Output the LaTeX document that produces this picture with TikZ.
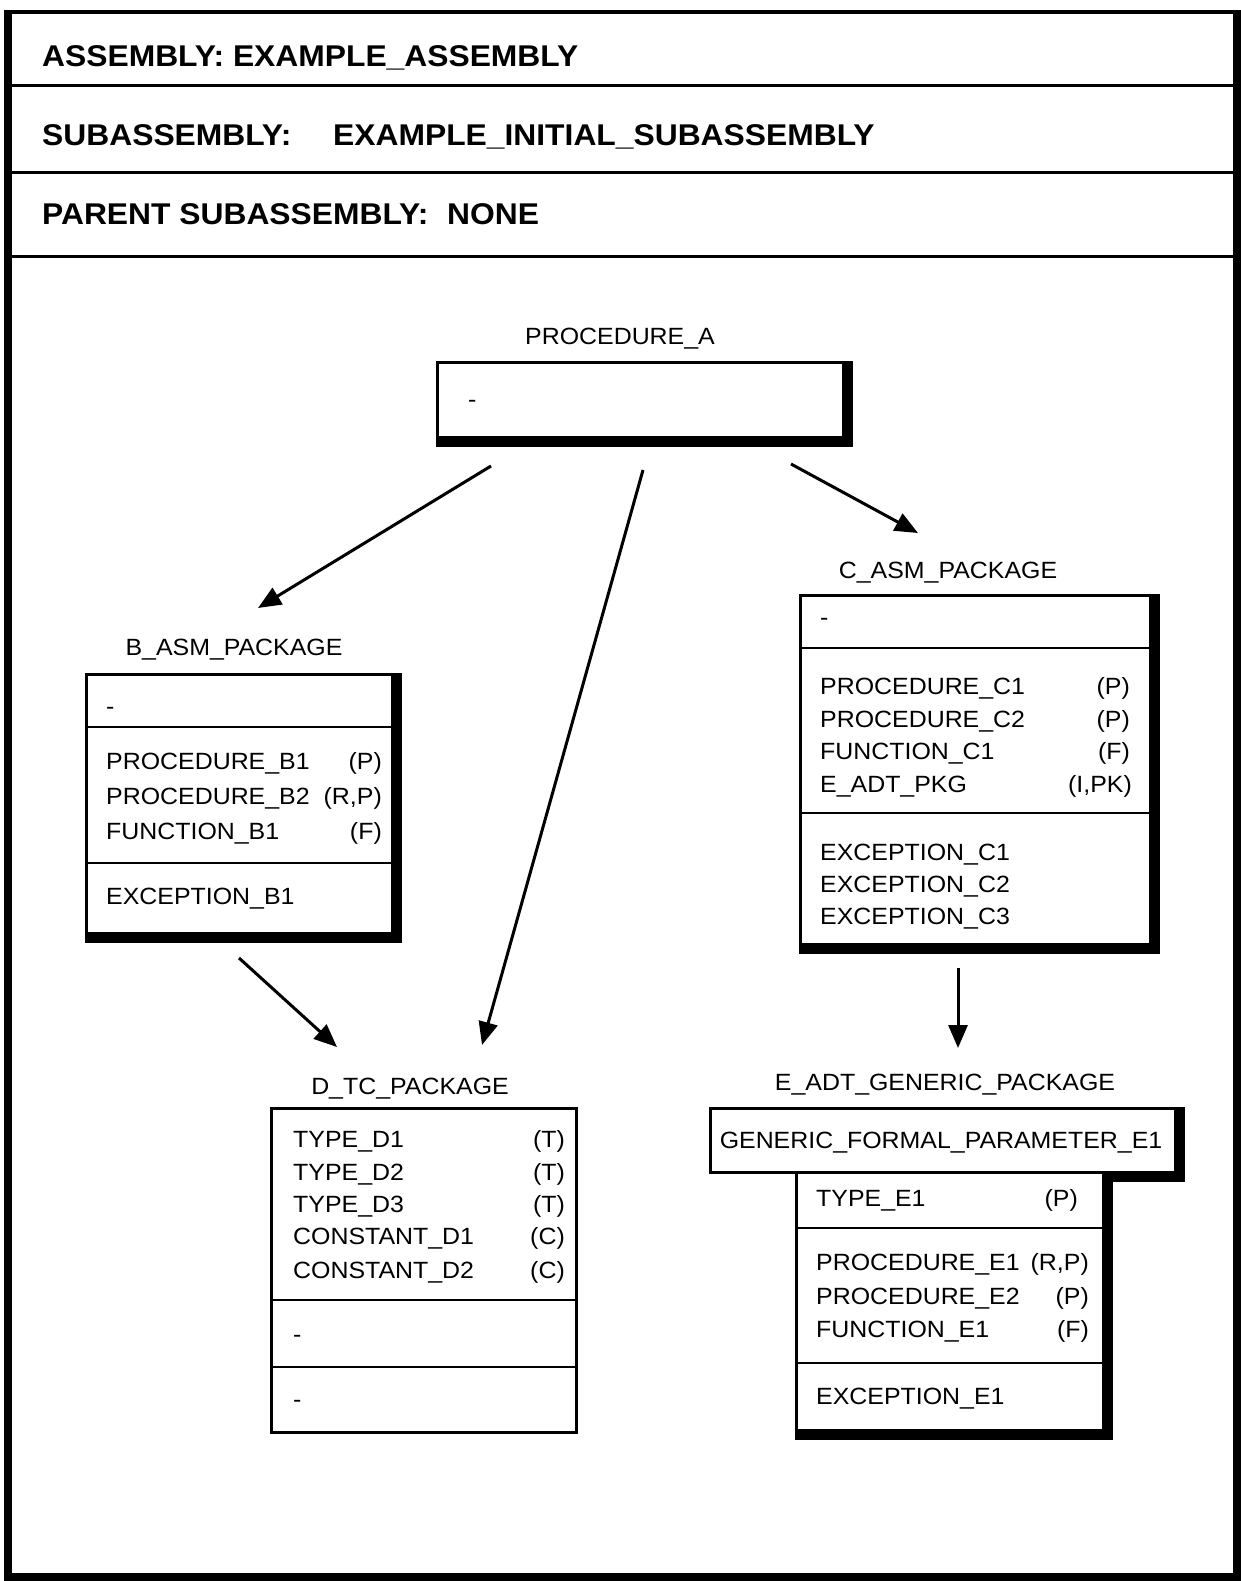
\documentclass[tikz,border=0pt]{standalone}
\usepackage{fontspec}
\setmainfont{Liberation Sans}
\newfontfamily\bodyfont[FakeStretch=1.06]{Liberation Sans}
\newfontfamily\hdrfont[FakeStretch=1.06]{Liberation Sans}
\usetikzlibrary{arrows.meta,calc}
\pgfdeclarelayer{bg}
\pgfsetlayers{bg,main}

\tikzset{
  pkgbox/.style={draw, line width=2.5pt, fill=white, inner sep=0pt, anchor=north west},
  lbl/.style={font=\bodyfont\fontsize{23.5}{28}\selectfont, inner sep=0pt},
  item/.style={lbl, anchor=base west},
  tag/.style={lbl, anchor=base east},
  title/.style={lbl, anchor=base},
  hdr/.style={font=\hdrfont\bfseries\fontsize{30}{36}\selectfont, inner sep=0pt, anchor=base west},
  link/.style={line width=3pt, -{Triangle[length=23pt,width=19pt]}},
  divider/.style={line width=2.5pt},
  rule/.style={line width=3pt},
}

\begin{document}
\begin{tikzpicture}[x=1pt,y=-1pt]
\useasboundingbox (0,0) rectangle (1241,1581);

% outer frame
\draw[line width=8pt] (7.5,10) -- (7.5,1577) -- (1236.5,1577) -- (1236.5,10);
\draw[line width=4pt] (3.5,12) -- (1240.5,12);

% header rows
\draw[rule] (11,86) -- (1233,86);
\draw[rule] (11,173) -- (1233,173);
\draw[rule] (11,256) -- (1233,256);
\node[hdr] (hasm) at (42,67) {ASSEMBLY: EXAMPLE\_ASSEMBLY};
\node[hdr] (hsubk) at (42,146) {SUBASSEMBLY:};
\node[hdr] (hsubv) at (333,146) {EXAMPLE\_INITIAL\_SUBASSEMBLY};
\node[hdr] (hpark) at (42,224) {PARENT SUBASSEMBLY:};
\node[hdr] (hparv) at (447,224) {NONE};

% PROCEDURE_A
\node[title] (tA) at (620,344) {PROCEDURE\_A};
\node[pkgbox, minimum width=406, minimum height=75] (procA) at (436,361) {};
\node[item] (a1) at (468,407) {-};

% B_ASM_PACKAGE
\node[title] (tB) at (234,655) {B\_ASM\_PACKAGE};
\node[pkgbox, minimum width=306, minimum height=259] (boxB) at (85,673) {};
\draw[divider] (85,727) -- (391,727);
\draw[divider] (85,863) -- (391,863);
\node[item] (b0) at (106,714) {-};
\node[item] (b1) at (106,769) {PROCEDURE\_B1};
\node[tag]  (b1t) at (382,769) {(P)};
\node[item] (b2) at (106,804) {PROCEDURE\_B2};
\node[tag]  (b2t) at (382,804) {(R,P)};
\node[item] (b3) at (106,839) {FUNCTION\_B1};
\node[tag]  (b3t) at (382,839) {(F)};
\node[item] (b4) at (106,904) {EXCEPTION\_B1};

% C_ASM_PACKAGE
\node[title] (tC) at (948,578) {C\_ASM\_PACKAGE};
\node[pkgbox, minimum width=350, minimum height=349] (boxC) at (799,594) {};
\draw[divider] (799,648) -- (1149,648);
\draw[divider] (799,813) -- (1149,813);
\node[item] (c0) at (820,625) {-};
\node[item] (c1) at (820,694) {PROCEDURE\_C1};
\node[tag]  (c1t) at (1130,694) {(P)};
\node[item] (c2) at (820,727) {PROCEDURE\_C2};
\node[tag]  (c2t) at (1130,727) {(P)};
\node[item] (c3) at (820,759) {FUNCTION\_C1};
\node[tag]  (c3t) at (1130,759) {(F)};
\node[item] (c4) at (820,792) {E\_ADT\_PKG};
\node[tag]  (c4t) at (1132,792) {(I,PK)};
\node[item] (c5) at (820,860) {EXCEPTION\_C1};
\node[item] (c6) at (820,892) {EXCEPTION\_C2};
\node[item] (c7) at (820,924) {EXCEPTION\_C3};

% D_TC_PACKAGE
\node[title] (tD) at (410,1094) {D\_TC\_PACKAGE};
\node[pkgbox, minimum width=305, minimum height=324] (boxD) at (270,1107) {};
\draw[divider] (270,1300) -- (575,1300);
\draw[divider] (270,1367) -- (575,1367);
\node[item] (d1) at (293,1147) {TYPE\_D1};
\node[tag]  (d1t) at (565,1147) {(T)};
\node[item] (d2) at (293,1180) {TYPE\_D2};
\node[tag]  (d2t) at (565,1180) {(T)};
\node[item] (d3) at (293,1212) {TYPE\_D3};
\node[tag]  (d3t) at (565,1212) {(T)};
\node[item] (d4) at (293,1244) {CONSTANT\_D1};
\node[tag]  (d4t) at (565,1244) {(C)};
\node[item] (d5) at (293,1278) {CONSTANT\_D2};
\node[tag]  (d5t) at (565,1278) {(C)};
\node[item] (d6) at (293,1342) {-};
\node[item] (d7) at (293,1407) {-};

% E_ADT_GENERIC_PACKAGE
\node[title] (tE) at (945,1090) {E\_ADT\_GENERIC\_PACKAGE};
\node[pkgbox, minimum width=307, minimum height=258] (boxE) at (795,1171) {};
\draw[divider] (795,1228) -- (1102,1228);
\draw[divider] (795,1363) -- (1102,1363);
\node[pkgbox, minimum width=465, minimum height=64] (boxG) at (709,1107) {};
\node[title] (g1) at (941,1148) {GENERIC\_FORMAL\_PARAMETER\_E1};
\node[item] (e1) at (816,1206) {TYPE\_E1};
\node[tag]  (e1t) at (1078,1206) {(P)};
\node[item] (e2) at (816,1270) {PROCEDURE\_E1};
\node[tag]  (e2t) at (1089,1270) {(R,P)};
\node[item] (e3) at (816,1304) {PROCEDURE\_E2};
\node[tag]  (e3t) at (1089,1304) {(P)};
\node[item] (e4) at (816,1337) {FUNCTION\_E1};
\node[tag]  (e4t) at (1089,1337) {(F)};
\node[item] (e5) at (816,1404) {EXCEPTION\_E1};

% box shadows
\begin{pgfonlayer}{bg}
  \fill (procA.north west) rectangle ($(procA.south east)+(8,8)$);
  \fill (boxB.north west) rectangle ($(boxB.south east)+(8,8)$);
  \fill (boxC.north west) rectangle ($(boxC.south east)+(8,8)$);
  \fill (boxE.north west) rectangle ($(boxE.south east)+(8,8)$);
  \fill (boxG.north east -| boxE.east) ++(-8,0) rectangle ($(boxG.south east)+(8,8)$);
\end{pgfonlayer}

% dependency arrows
\coordinate (sAB) at (491,466);  \coordinate (eAB) at (258,608);
\coordinate (sAD) at (643,470);  \coordinate (eAD) at (482,1045);
\coordinate (sAC) at (791,464);  \coordinate (eAC) at (918,533);
\coordinate (sBD) at (239,958);  \coordinate (eBD) at (337,1047);
\coordinate (sCE) at (958,968);  \coordinate (eCE) at (958,1048);
\draw[link] (sAB) -- (eAB);
\draw[link] (sAD) -- (eAD);
\draw[link] (sAC) -- (eAC);
\draw[link] (sBD) -- (eBD);
\draw[link] (sCE) -- (eCE);
\end{tikzpicture}
\end{document}
